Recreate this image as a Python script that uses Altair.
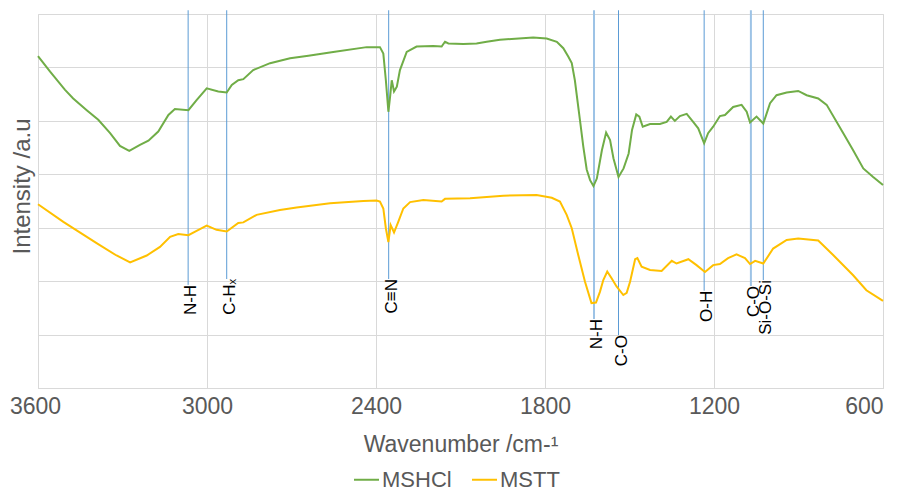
import altair as alt
import pandas as pd

# ---- data ----
mshcl_wn = [3600, 3557, 3504, 3475, 3427, 3386, 3344, 3309, 3276, 3238, 3208, 3173, 3137, 3114, 3066,
            3037, 3001, 2960, 2930, 2912, 2889, 2871, 2836, 2776, 2705, 2640, 2552, 2433, 2386, 2374,
            2365, 2356, 2350, 2344, 2336, 2326, 2315, 2291, 2256, 2197, 2167, 2155, 2143, 2090, 2043,
            2007, 1960, 1842, 1794, 1758, 1735, 1717, 1705, 1694, 1676, 1664, 1652, 1640, 1628, 1616,
            1598, 1583, 1569, 1557, 1539, 1521, 1503, 1491, 1476, 1465, 1453, 1427, 1392, 1368, 1353,
            1339, 1321, 1297, 1274, 1256, 1235, 1221, 1203, 1179, 1161, 1132, 1102, 1084, 1072, 1049,
            1025, 1001, 978, 942, 901, 871, 830, 800, 741, 706, 670, 635, 600]
mshcl_int = [6.21, 5.92, 5.58, 5.42, 5.20, 5.02, 4.77, 4.53, 4.44, 4.55, 4.63, 4.80, 5.11, 5.22, 5.20,
             5.39, 5.61, 5.55, 5.53, 5.67, 5.76, 5.78, 5.95, 6.08, 6.17, 6.22, 6.29, 6.38, 6.38, 6.26,
             5.76, 5.17, 5.45, 5.76, 5.55, 5.64, 5.95, 6.29, 6.39, 6.40, 6.39, 6.48, 6.45, 6.44, 6.45,
             6.48, 6.52, 6.56, 6.54, 6.48, 6.36, 6.20, 6.08, 5.76, 5.02, 4.52, 4.09, 3.89, 3.78, 3.92,
             4.45, 4.78, 4.64, 4.30, 3.95, 4.11, 4.39, 4.83, 5.12, 5.08, 4.89, 4.94, 4.94, 4.98, 5.08,
             5.00, 5.09, 5.13, 4.98, 4.86, 4.58, 4.77, 4.89, 5.09, 5.11, 5.26, 5.30, 5.17, 4.97, 5.08,
             4.95, 5.33, 5.48, 5.53, 5.56, 5.48, 5.42, 5.30, 4.77, 4.45, 4.11, 3.95, 3.80]

mstt_wn = [3600, 3510, 3392, 3321, 3273, 3214, 3167, 3131, 3102, 3066, 3037, 3001, 2966, 2930, 2889,
           2871, 2824, 2741, 2682, 2563, 2445, 2398, 2386, 2374, 2365, 2356, 2348, 2336, 2321, 2303,
           2279, 2232, 2167, 2155, 2066, 1948, 1830, 1776, 1747, 1723, 1705, 1682, 1658, 1635, 1619,
           1605, 1593, 1579, 1563, 1546, 1522, 1510, 1498, 1480, 1472, 1457, 1427, 1386, 1350, 1333,
           1291, 1262, 1232, 1203, 1179, 1150, 1120, 1090, 1072, 1054, 1025, 990, 942, 901, 830,
           777, 706, 659, 600]
mstt_int = [3.44, 3.11, 2.71, 2.48, 2.35, 2.48, 2.64, 2.83, 2.88, 2.86, 2.94, 3.04, 2.96, 2.93, 3.09,
            3.10, 3.24, 3.33, 3.38, 3.46, 3.50, 3.51, 3.49, 3.36, 2.99, 2.73, 3.05, 2.91, 3.11, 3.36,
            3.48, 3.52, 3.49, 3.54, 3.55, 3.60, 3.61, 3.56, 3.49, 3.24, 2.99, 2.49, 1.99, 1.59, 1.60,
            1.80, 2.02, 2.18, 2.05, 1.90, 1.74, 1.78, 1.99, 2.41, 2.43, 2.27, 2.21, 2.19, 2.38, 2.33,
            2.41, 2.30, 2.17, 2.30, 2.32, 2.43, 2.50, 2.43, 2.32, 2.38, 2.33, 2.61, 2.77, 2.80, 2.76,
            2.49, 2.11, 1.83, 1.63]

series_names = ["MSHCl", "MSTT"]
series_colors = ["#70AD47", "#FFC000"]

ann_wn = [3067, 2930, 2355, 1626, 1539, 1235, 1069, 1025]
ann_label = ["N-H", "C-Hₓ", "C≡N", "N-H", "C-O", "O-H", "C-O", "Si-O-Si"]
ann_end = [1.93, 2.04, 2.04, 1.29, 0.99, 1.82, 1.91, 2.02]
ann_top = [7.07] * len(ann_wn)
ann_wide = [False, False, False, True, False, False, True, False]

x_ticks = [3600, 3000, 2400, 1800, 1200, 600]
y_ticks = [0, 1, 2, 3, 4, 5, 6, 7]

# ---- tables ----
spec_df = pd.concat([
    pd.DataFrame({"series": series_names[0], "wn": mshcl_wn, "intensity": mshcl_int}),
    pd.DataFrame({"series": series_names[1], "wn": mstt_wn, "intensity": mstt_int}),
])
ann_df = pd.DataFrame({"wn": ann_wn, "label": ann_label, "end": ann_end,
                       "top": ann_top, "wide": ann_wide})

FONT = "Liberation Sans"
GREY = "#595959"

xscale = alt.Scale(domain=[3600, 600], nice=False, zero=False)
yscale = alt.Scale(domain=[0, 7], nice=False, zero=False)

x_axis = alt.Axis(values=x_ticks, format="d", grid=True, gridColor="#D9D9D9", ticks=False,
                  tickSize=0, domainColor="#D9D9D9", labelFontSize=23, labelColor=GREY,
                  labelFont=FONT, labelPadding=7, labelFlush=False,
                  labelAlign=alt.ExprRef("datum.value == 600 ? 'right' : 'center'"),
                  labelOffset=alt.ExprRef("datum.value == 3600 ? -3 : 0"),
                  title="Wavenumber /cm-¹", titleFontSize=23, titleColor=GREY,
                  titleFont=FONT, titleFontWeight="normal", titleY=56, titleBaseline="middle")
y_axis = alt.Axis(values=y_ticks, grid=True, gridColor="#D9D9D9", ticks=False, labels=False,
                  domain=False, title="Intensity /a.u", titleFontSize=24, titleColor=GREY,
                  titleFont=FONT, titleFontWeight="normal", titleAngle=270, titleX=-16, titleY=172,
                  titleAlign="center", titleBaseline="middle")

lines = alt.Chart(spec_df).mark_line(strokeWidth=2).encode(
    x=alt.X("wn:Q", scale=xscale, axis=x_axis),
    y=alt.Y("intensity:Q", scale=yscale, axis=y_axis),
    color=alt.Color("series:N", scale=alt.Scale(domain=series_names, range=series_colors),
                    legend=alt.Legend(title=None, orient="none", legendX=315, legendY=452,
                                      direction="horizontal", symbolType="stroke",
                                      symbolStrokeWidth=2, symbolSize=625, labelFontSize=22,
                                      labelFont=FONT, labelColor=GREY, labelOffset=2,
                                      columnPadding=16, padding=0)),
)

rules = alt.Chart(ann_df).mark_rule(clip=False).encode(
    x=alt.X("wn:Q", scale=xscale),
    y=alt.Y("top:Q", scale=yscale),
    y2="end:Q",
    color=alt.condition("datum.wide", alt.value("#9DC3E6"), alt.value("#5B9BD5")),
    strokeWidth=alt.condition("datum.wide", alt.value(2), alt.value(1)),
)

labels = alt.Chart(ann_df).mark_text(angle=270, align="right", baseline="middle", dy=3,
                                     fontSize=17, font=FONT, color="#000000").encode(
    x=alt.X("wn:Q", scale=xscale),
    y=alt.Y("end:Q", scale=yscale),
    text="label:N",
)

chart = alt.layer(rules, lines, labels).properties(
    width=845, height=374,
    autosize=alt.AutoSizeParams(type="none"),
    padding={"left": 30, "top": 6, "right": 14, "bottom": 110},
).configure_view(stroke=None).configure(background="white")

chart.save("out.html", embed_options={"renderer": "svg", "actions": False})
